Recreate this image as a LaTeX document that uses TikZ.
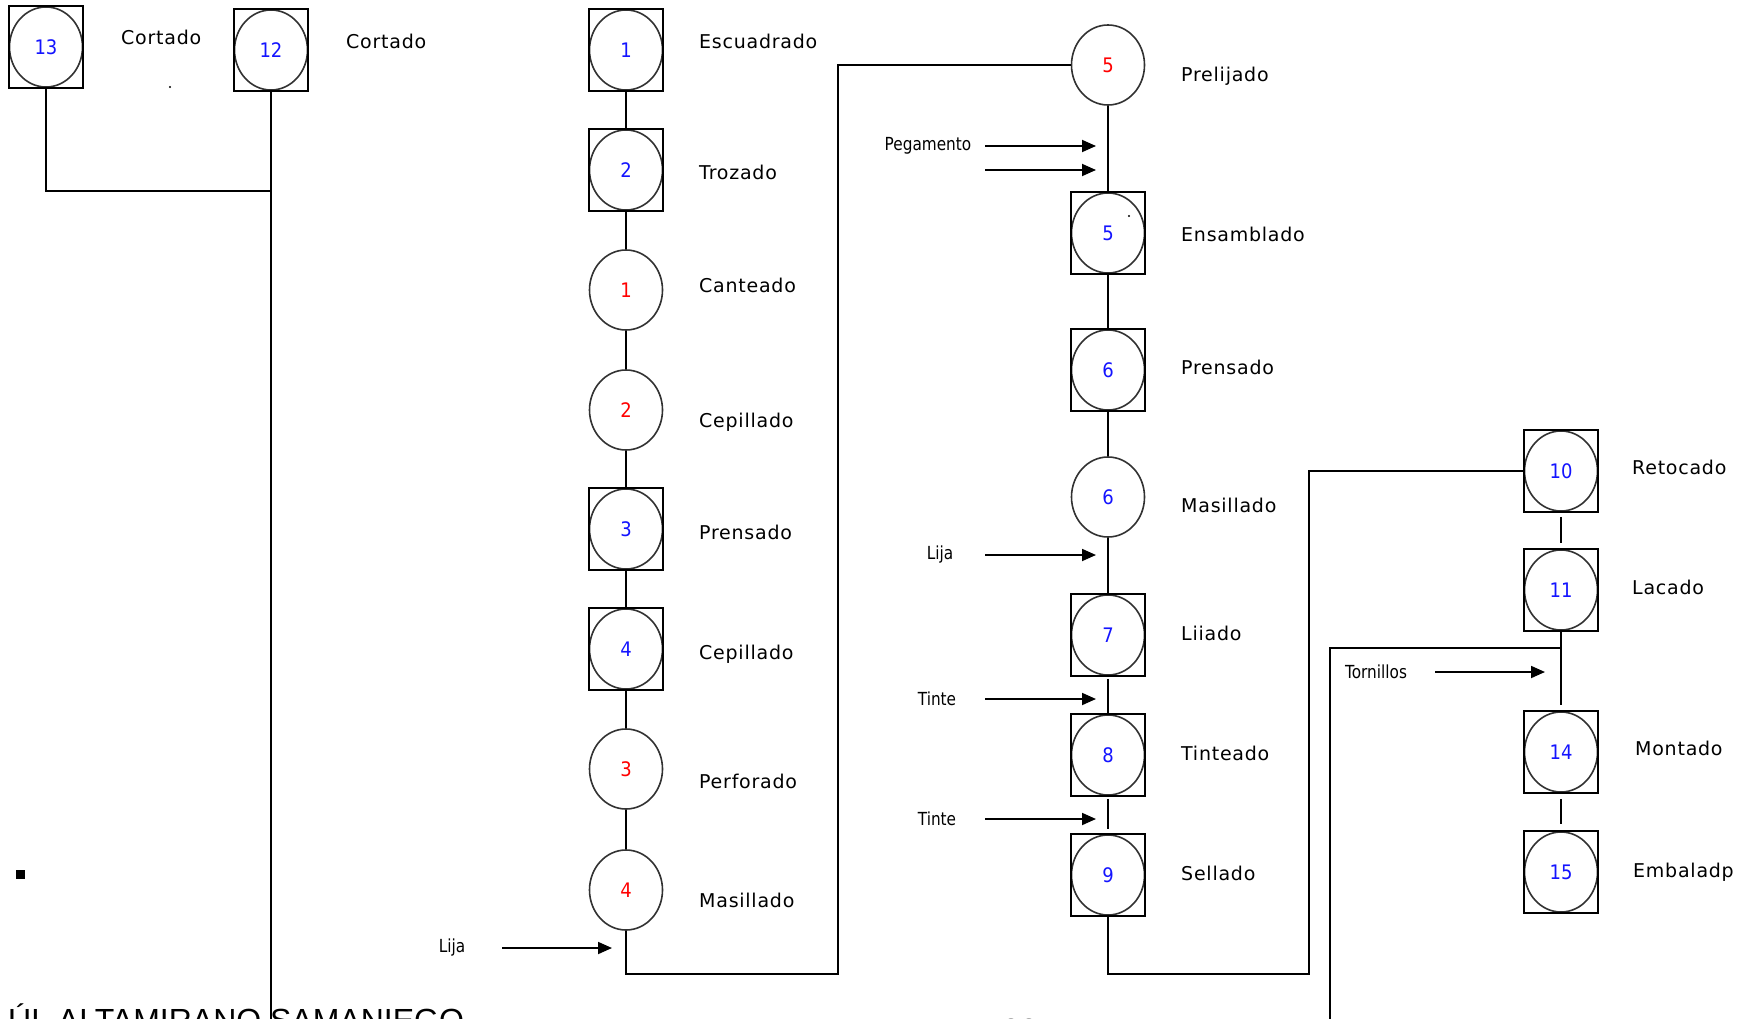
\documentclass[tikz,border=0pt]{standalone}
\usepackage{fontspec}
\setmainfont{DejaVu Sans}[LetterSpace=4]
\newfontfamily\tagfont{DejaVu Sans}[FakeStretch=0.85]
\newfontfamily\numfont{DejaVu Sans}[FakeStretch=0.9]
\newfontfamily\footfont{Liberation Sans}
\usetikzlibrary{shapes.geometric,arrows.meta}

\definecolor{numblue}{RGB}{20,20,255}
\definecolor{numred}{RGB}{255,0,0}
\definecolor{ringgray}{RGB}{50,50,50}

\tikzset{
  op/.style={ellipse, draw=ringgray, line width=1.6pt, minimum width=73pt,
    minimum height=80pt, inner sep=0pt, font=\numfont\fontsize{20}{22}\selectfont},
  opblue/.style={op, text=numblue},
  opred/.style={op, text=numred},
  frame/.style={draw=black, line width=1.8pt},
  lbl/.style={anchor=base west, inner sep=0pt, font=\fontsize{19}{22}\selectfont},
  tag/.style={inner sep=0pt, font=\tagfont\fontsize{18}{20}\selectfont},
  flow/.style={line width=1.8pt},
  feed/.style={line width=1.8pt, -{Triangle[length=14pt,width=12pt]}},
  foot/.style={anchor=base west, inner sep=0pt, font=\footfont\fontsize{32}{36}\selectfont}
}

\begin{document}
\begin{tikzpicture}[x=1pt,y=-1pt]
\useasboundingbox (0,0) rectangle (1746,1019);
\clip (0,0) rectangle (1746,1019);
\fill[white] (0,0) rectangle (1746,1019);

% ---- cutting of the parts ----
\node[opblue] (b13) at (46,47) {13};
\node[opblue] (b12) at (271,50) {12};
\node[lbl] (t13) at (121,45) {Cortado};
\node[lbl] (t12) at (346,49) {Cortado};

% ---- first line ----
\node[opblue] (b1) at (626,50)  {1};
\node[opblue] (b2) at (626,170) {2};
\node[opred]  (c1) at (626,290) {1};
\node[opred]  (c2) at (626,410) {2};
\node[opblue] (b3) at (626,529) {3};
\node[opblue] (b4) at (626,649) {4};
\node[opred]  (c3) at (626,769) {3};
\node[opred]  (c4) at (626,890) {4};

\node[lbl] (t1)  at (699,49)  {Escuadrado};
\node[lbl] (t2)  at (699,180) {Trozado};
\node[lbl] (t3)  at (699,292) {Canteado};
\node[lbl] (t4)  at (699,427) {Cepillado};
\node[lbl] (t5)  at (699,539) {Prensado};
\node[lbl] (t6)  at (699,659) {Cepillado};
\node[lbl] (t7)  at (699,788) {Perforado};
\node[lbl] (t8)  at (699,907) {Masillado};

% ---- second line ----
\node[opred]  (c5) at (1108,65)  {5};
\node[opblue] (b5) at (1108,233) {5};
\node[opblue] (b6) at (1108,370) {6};
\node[opblue] (c6) at (1108,497) {6};
\node[opblue] (b7) at (1108,635) {7};
\node[opblue] (b8) at (1108,755) {8};
\node[opblue] (b9) at (1108,875) {9};

\node[lbl] (t9)  at (1181,82)  {Prelijado};
\node[lbl] (t10) at (1181,242) {Ensamblado};
\node[lbl] (t11) at (1181,374) {Prensado};
\node[lbl] (t12b) at (1181,512) {Masillado};
\node[lbl] (t13b) at (1181,640) {Liiado};
\node[lbl] (t14) at (1181,760) {Tinteado};
\node[lbl] (t15) at (1181,880) {Sellado};

% ---- third line ----
\node[opblue] (b10) at (1561,471) {10};
\node[opblue] (b11) at (1561,590) {11};
\node[opblue] (b14) at (1561,752) {14};
\node[opblue] (b15) at (1561,872) {15};

\node[lbl] (t16) at (1632,474) {Retocado};
\node[lbl] (t17) at (1632,594) {Lacado};
\node[lbl] (t18) at (1635,755) {Montado};
\node[lbl] (t19) at (1633,877) {Embaladp};

% square frames of the combined operations
\foreach \n in {b13,b12,b1,b2,b3,b4,b5,b6,b7,b8,b9,b10,b11,b14,b15}
  \draw[frame] (\n.west |- \n.north) rectangle (\n.east |- \n.south);

% ---- connectors ----
\coordinate (jA) at (838,974);
\coordinate (jB) at (1309,974);
\coordinate (jC) at (271,191);
\coordinate (jD) at (271,1019);
\coordinate (jE) at (1330,648);
\coordinate (jF) at (1330,1019);
\coordinate (jG) at (1561,705);

\draw[flow] (b13.south) |- (jC);
\draw[flow] (b12.south) -- (jD);

\draw[flow] (b1) -- (b2);
\draw[flow] (b2) -- (c1);
\draw[flow] (c1) -- (c2);
\draw[flow] (c2) -- (b3);
\draw[flow] (b3) -- (b4);
\draw[flow] (b4) -- (c3);
\draw[flow] (c3) -- (c4);
\draw[flow] (c4.south) |- (jA) |- (c5.west);

\draw[flow] (c5) -- (b5);
\draw[flow] (b5) -- (b6);
\draw[flow] (b6) -- (c6);
\draw[flow] (c6) -- (b7);
\draw[flow, shorten <=3pt] (b7) -- (b8);
\draw[flow, shorten <=3pt, shorten >=5pt] (b8) -- (b9);
\draw[flow] (b9.south) |- (jB) |- (b10.west);

\draw[flow, shorten <=5pt, shorten >=6pt] (b10) -- (b11);
\draw[flow] (b11.south) -- (jG);
\draw[flow] (jF) |- (b11.south |- jE);
\draw[flow, shorten <=6pt, shorten >=7pt] (b14) -- (b15);

% ---- materials fed into the process ----
\node[tag] (mLija1) at (452,948) {Lija};
\coordinate (fL1s) at (502,948);
\coordinate (fL1e) at (612,948);
\draw[feed] (fL1s) -- (fL1e);

\node[tag] (mPeg) at (928,146) {Pegamento};
\coordinate (fP1s) at (985,146);
\coordinate (fP1e) at (1096,146);
\coordinate (fP2s) at (985,170);
\coordinate (fP2e) at (1096,170);
\draw[feed] (fP1s) -- (fP1e);
\draw[feed] (fP2s) -- (fP2e);

\node[tag] (mLija2) at (940,555) {Lija};
\coordinate (fL2s) at (985,555);
\coordinate (fL2e) at (1096,555);
\draw[feed] (fL2s) -- (fL2e);

\node[tag] (mTinte1) at (937,699) {Tinte};
\coordinate (fT1s) at (985,699);
\coordinate (fT1e) at (1096,699);
\draw[feed] (fT1s) -- (fT1e);

\node[tag] (mTinte2) at (937,819) {Tinte};
\coordinate (fT2s) at (985,819);
\coordinate (fT2e) at (1096,819);
\draw[feed] (fT2s) -- (fT2e);

\node[tag] (mTorn) at (1376,672) {Tornillos};
\coordinate (fRs) at (1435,672);
\coordinate (fRe) at (1545,672);
\draw[feed] (fRs) -- (fRe);

% ---- stray marks ----
\fill (16,870) rectangle (25,879);
\fill (170,87) circle (1.1);
\fill (1129,216) circle (1.1);

% ---- page footer ----
\node[foot] (pgname) at (8,1031) {ÚL ALTAMIRANO SAMANIEGO};
\node[foot] (pgnum) at (1002,1041) {28};
\end{tikzpicture}
\end{document}
